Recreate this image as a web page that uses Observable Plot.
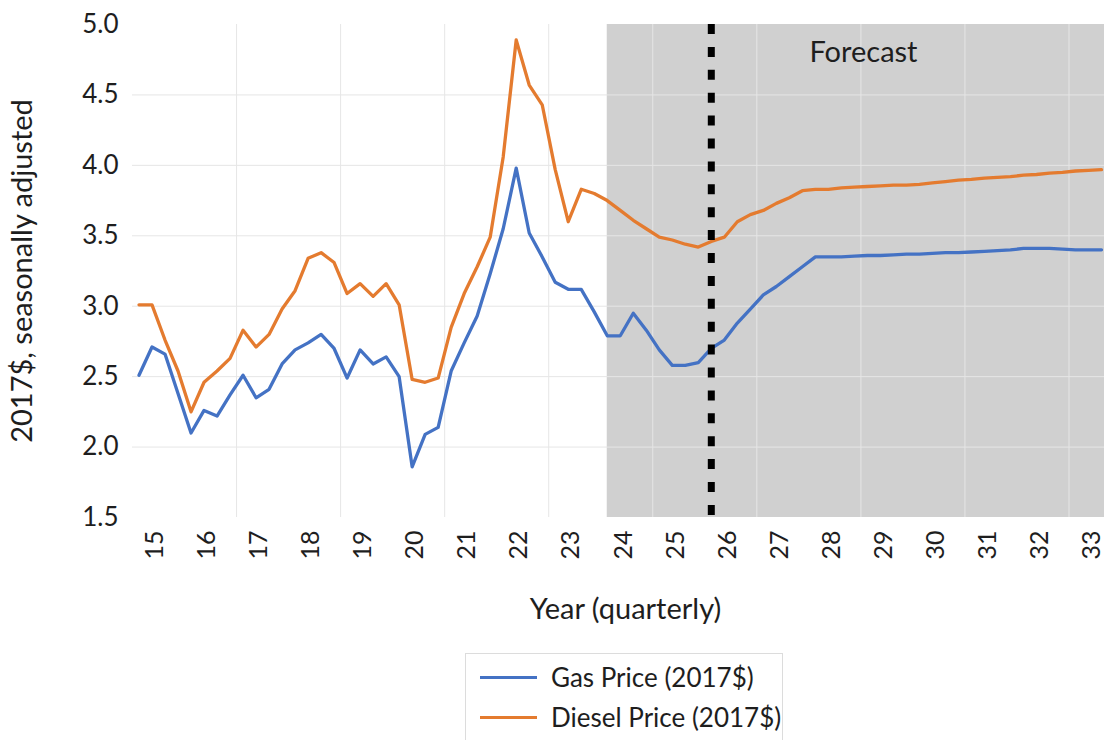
<!DOCTYPE html>
<html>
<head>
<meta charset="utf-8">
<script src="https://cdn.jsdelivr.net/npm/d3@7"></script>
<script src="https://cdn.jsdelivr.net/npm/@observablehq/plot@0.6"></script>
<style>
  html, body { margin: 0; padding: 0; background: #fff; }
  #wrap { position: relative; width: 1104px; height: 740px; overflow: hidden; font-family: Lato, "Open Sans", sans-serif; color: #1e1e1e; }
  #chart { position: absolute; left: 0; top: 0; }
  #legend { position: absolute; left: 465px; top: 653px; width: 318px; height: 110px; border: 1px solid #dcdcdc; box-sizing: border-box; background: #fff; }
  .item { position: absolute; left: 0; height: 30px; display: flex; align-items: center; font-size: 26px; white-space: nowrap; }
  .sw { display: inline-block; width: 57px; height: 3px; margin-left: 14px; margin-right: 14px; }
</style>
</head>
<body>
<div id="wrap">
  <div id="chart"></div>
  <div id="legend"></div>
</div>
<script>
// Quarterly series (index 0 = first quarter shown)
const gasPrice = [
  2.51, 2.71, 2.66, 2.38, 2.10, 2.26, 2.22, 2.37, 2.51, 2.35,
  2.41, 2.59, 2.69, 2.74, 2.80, 2.70, 2.49, 2.69, 2.59, 2.64,
  2.50, 1.86, 2.09, 2.14, 2.54, 2.74, 2.93, 3.23, 3.55, 3.98,
  3.52, 3.35, 3.17, 3.12, 3.12, 2.96, 2.79, 2.79, 2.95, 2.83,
  2.69, 2.58, 2.58, 2.60, 2.70, 2.76, 2.88, 2.98, 3.08, 3.14,
  3.21, 3.28, 3.35, 3.35, 3.35, 3.355, 3.36, 3.36, 3.365, 3.37,
  3.37, 3.375, 3.38, 3.38, 3.385, 3.39, 3.395, 3.40, 3.41, 3.41,
  3.41, 3.405, 3.40, 3.40, 3.40
];
const dieselPrice = [
  3.01, 3.01, 2.76, 2.54, 2.25, 2.46, 2.54, 2.63, 2.83, 2.71,
  2.80, 2.98, 3.11, 3.34, 3.38, 3.31, 3.09, 3.16, 3.07, 3.16,
  3.01, 2.48, 2.46, 2.49, 2.85, 3.09, 3.28, 3.49, 4.06, 4.89,
  4.57, 4.43, 3.97, 3.60, 3.83, 3.80, 3.75, 3.68, 3.61, 3.55,
  3.49, 3.47, 3.44, 3.42, 3.46, 3.49, 3.60, 3.65, 3.68, 3.73,
  3.77, 3.82, 3.83, 3.83, 3.84, 3.845, 3.85, 3.855, 3.86, 3.86,
  3.865, 3.875, 3.885, 3.895, 3.90, 3.91, 3.915, 3.92, 3.93, 3.935,
  3.945, 3.95, 3.96, 3.965, 3.97
];
const yearLabels = ["15","16","17","18","19","20","21","22","23","24","25","26","27","28","29","30","31","32","33"];
const yearTickPos = yearLabels.map((d, k) => 1.25 + 4 * k);      // quarter index of each year label
const gridXPos = [7.5, 15.5, 23.5, 31.5, 39.5, 47.5, 55.5, 63.5, 71.5];
const yTicks = [1.5, 2.0, 2.5, 3.0, 3.5, 4.0, 4.5, 5.0];
const yGrid = [2.0, 2.5, 3.0, 3.5, 4.0, 4.5];
const forecastStart = 36;     // quarter index where forecast shading starts
const currentQuarter = 44;    // dashed marker
const forecastLabel = [{x: 55.7, y: 4.80, text: "Forecast"}];
const seriesNames = ["Gas Price (2017$)", "Diesel Price (2017$)"];
const seriesColors = ["#4472C4", "#E47B2F"];

const xDomain = [-0.5, 74.23];
const yDomain = [1.5, 5.0];

const rows = [];
gasPrice.forEach((v, i) => rows.push({q: i, v, s: seriesNames[0]}));
dieselPrice.forEach((v, i) => rows.push({q: i, v, s: seriesNames[1]}));

const font = "Lato, 'Open Sans', sans-serif";
const ink = "#1e1e1e";

const chart = Plot.plot({
  width: 1104,
  height: 645,
  marginLeft: 132,
  marginRight: 0,
  marginTop: 24,
  marginBottom: 128,
  style: {fontFamily: font, color: ink, background: "transparent"},
  x: {domain: xDomain, axis: null},
  y: {domain: yDomain, axis: null},
  color: {domain: seriesNames, range: seriesColors},
  marks: [
    Plot.rect([{x1: forecastStart, x2: xDomain[1], y1: yDomain[0], y2: yDomain[1]}],
      {x1: "x1", x2: "x2", y1: "y1", y2: "y2", fill: "#d0d0d0"}),
    Plot.gridY(yGrid, {stroke: "#e6e6e6", strokeOpacity: 1, strokeWidth: 1}),
    Plot.gridX(gridXPos, {stroke: "#e6e6e6", strokeOpacity: 1, strokeWidth: 1}),
    Plot.axisY(yTicks, {tickSize: 0, tickPadding: 14, tickFormat: d3.format(".1f"), fontSize: 26, label: null, fill: ink}),
    Plot.axisX(yearTickPos, {tickSize: 0, tickPadding: 13, tickRotate: -90, fontSize: 25, label: null, fill: ink,
      tickFormat: (d, i) => yearLabels[i]}),
    Plot.text(["2017$, seasonally adjusted"], {frameAnchor: "left", textAnchor: "middle", lineAnchor: "middle", dx: -110, rotate: -90, fontSize: 29, fill: ink}),
    Plot.text(["Year (quarterly)"], {frameAnchor: "bottom", lineAnchor: "middle", dx: 7, dy: 92, fontSize: 29, fill: ink}),
    Plot.line(rows, {x: "q", y: "v", z: "s", stroke: "s", strokeWidth: 3.3, strokeLinejoin: "round", strokeLinecap: "round"}),
    Plot.ruleX([currentQuarter], {stroke: "#000", strokeWidth: 7, strokeDasharray: "10,12.9"}),
    Plot.text(forecastLabel, {x: "x", y: "y", text: "text", fontSize: 29, fill: ink})
  ]
});
document.getElementById("chart").appendChild(chart);

const legend = document.getElementById("legend");
seriesNames.forEach((name, i) => {
  const item = document.createElement("div");
  item.className = "item";
  item.style.top = (8 + i * 40) + "px";
  const sw = document.createElement("span");
  sw.className = "sw";
  sw.style.background = seriesColors[i];
  const label = document.createElement("span");
  label.textContent = name;
  item.appendChild(sw);
  item.appendChild(label);
  legend.appendChild(item);
});
</script>
</body>
</html>
